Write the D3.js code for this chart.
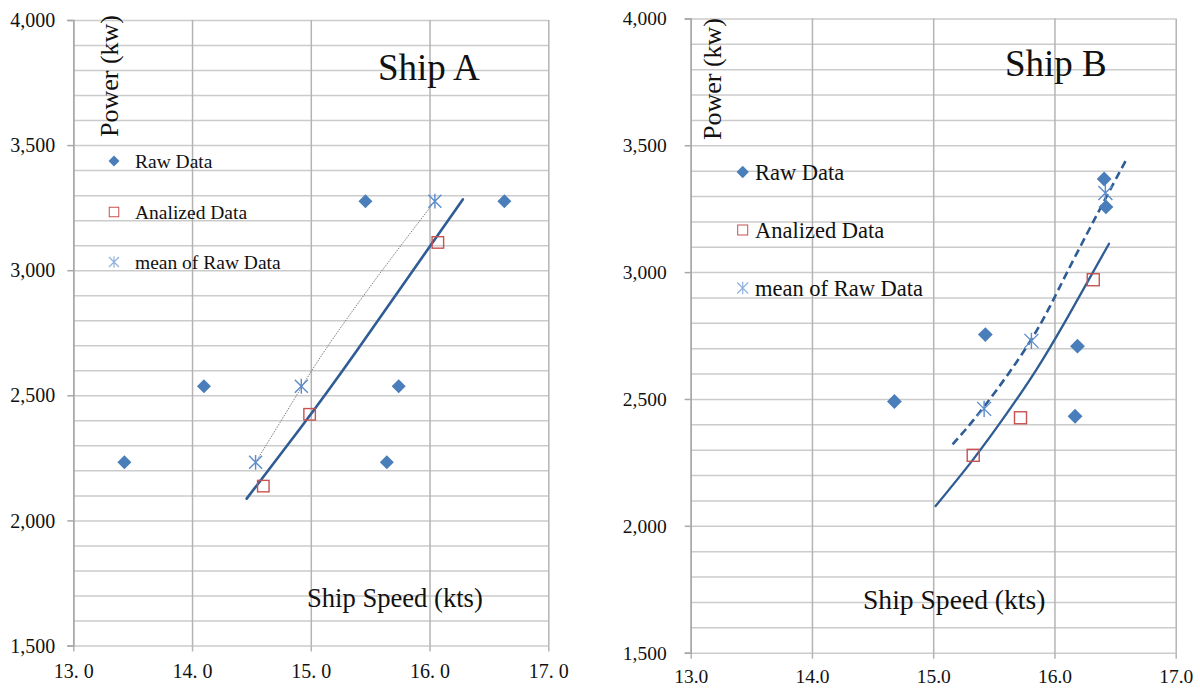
<!DOCTYPE html>
<html>
<head>
<meta charset="utf-8">
<script src="https://cdn.jsdelivr.net/npm/d3@7"></script>
<style>
  html, body { margin: 0; padding: 0; background: #fff; }
  svg { display: block; }
  text { font-family: "Liberation Serif", "Times New Roman", serif; fill: #111; }
</style>
</head>
<body>
<svg id="chart" width="1200" height="688" font-family="Liberation Serif, serif"></svg>
<script>
// ---- Ship A -------------------------------------------------------------
const shipARawSpeed   = [13.43, 14.10, 15.46, 15.74, 15.64, 16.63];
const shipARawPower   = [2232, 2536, 3276, 2536, 2232, 3276];
const shipAMeanSpeed  = [14.535, 14.92, 16.045];
const shipAMeanPower  = [2232, 2536, 3276];
const shipAAnalSpeed  = [14.60, 14.99, 16.07];
const shipAAnalPower  = [2137, 2424, 3111];
// fitted curve through analysed data
const shipAFitSpeed   = [14.46, 14.91, 15.39, 16.28];
const shipAFitPower   = [2087, 2367, 2680, 3283];
// curve through the means of raw data
const shipAMeanFitSpeed = [14.535, 14.855, 15.12, 15.56, 16.045];
const shipAMeanFitPower = [2232, 2480, 2680, 2973, 3276];

// ---- Ship B -------------------------------------------------------------
const shipBRawSpeed   = [14.68, 15.43, 16.19, 16.17, 16.41, 16.425];
const shipBRawPower   = [2490, 2754, 2708, 2432, 3367, 3257];
const shipBMeanSpeed  = [15.42, 15.81, 16.42];
const shipBMeanPower  = [2461, 2729, 3312];
const shipBAnalSpeed  = [15.33, 15.72, 16.32];
const shipBAnalPower  = [2278, 2426, 2970];
const shipBFitSpeed   = [15.02, 15.33, 15.61, 15.85, 16.10, 16.45];
const shipBFitPower   = [2078, 2262, 2445, 2615, 2815, 3112];
const shipBMeanFitSpeed = [15.16, 15.42, 15.81, 16.10, 16.43, 16.60];
const shipBMeanFitPower = [2321, 2470, 2735, 2995, 3298, 3450];

// ---- Axes ---------------------------------------------------------------
const speedTicks = [13, 14, 15, 16, 17];
const powerTicks = [1500, 2000, 2500, 3000, 3500, 4000];
const powerMinorTicks = d3.range(1500, 4001, 100);
const legendLabels = ["Raw Data", "Analized Data", "mean of Raw Data"];
const yTitle = "Power (kw)";
const xTitle = "Ship Speed (kts)";

const zip = (xs, ys) => xs.map((x, i) => [x, ys[i]]);
const SERIF = '"Liberation Serif", "Times New Roman", serif';

const panels = [
  {
    title: "Ship A",
    raw: zip(shipARawSpeed, shipARawPower),
    mean: zip(shipAMeanSpeed, shipAMeanPower),
    anal: zip(shipAAnalSpeed, shipAAnalPower),
    fit: zip(shipAFitSpeed, shipAFitPower),
    meanFit: zip(shipAMeanFitSpeed, shipAMeanFitPower),
    meanFitStyle: { stroke: "#6e6e6e", width: 0.9, dash: "1.5,1.2" },
    fitWidth: 2.6,
    xFmt: d => d.toFixed(1).replace(".", ". "),
    xr: [73.3, 548.3], yr: [645.5, 20],
    yLabelGap: 18, xLabelDy: 32, tickFont: 20,
    yTitlePos: [118, 137], titlePos: [378, 80], titleFont: 37,
    xTitlePos: [307, 607], xTitleFont: 26.6,
    legend: { x: 114, tx: 135, ys: [161, 212, 262], font: 19.5, dia: 5.5, sq: 9.5, ast: 5 },
    markSize: { dia: 7, sq: 11.5, ast: 6.5 }
  },
  {
    title: "Ship B",
    raw: zip(shipBRawSpeed, shipBRawPower),
    mean: zip(shipBMeanSpeed, shipBMeanPower),
    anal: zip(shipBAnalSpeed, shipBAnalPower),
    fit: zip(shipBFitSpeed, shipBFitPower),
    meanFit: zip(shipBMeanFitSpeed, shipBMeanFitPower),
    meanFitStyle: { stroke: "#2e5c94", width: 2.6, dash: "8,4.5" },
    fitWidth: 2.3,
    xFmt: d => d.toFixed(1),
    xr: [690.7, 1175.7], yr: [652.7, 18.4],
    yLabelGap: 24, xLabelDy: 30, tickFont: 19.5,
    yTitlePos: [721, 140], titlePos: [1005, 76], titleFont: 37,
    xTitlePos: [863, 609], xTitleFont: 27.6,
    legend: { x: 742.7, tx: 755, ys: [172, 230, 288], font: 22.5, dia: 6.2, sq: 10, ast: 5.5 },
    markSize: { dia: 7.4, sq: 12, ast: 7 }
  }
];

const svg = d3.select("#chart");
const blue = "#4a7ebb";
const red = "#c8524f";
const lineBlue = "#2e5c94";

function diamond(sel, r) {
  sel.attr("d", `M0,${-r}L${r},0L0,${r}L${-r},0Z`).attr("fill", blue);
}
function square(sel, s, w) {
  sel.attr("x", -s / 2).attr("y", -s / 2).attr("width", s).attr("height", s)
     .attr("fill", "none").attr("stroke", red).attr("stroke-width", w);
}
function asterisk(sel, r, color, w) {
  const v = r * 1.15;
  sel.attr("d", `M${-r},${-r}L${r},${r}M${-r},${r}L${r},${-r}M0,${-v}L0,${v}`)
     .attr("fill", "none").attr("stroke", color).attr("stroke-width", w);
}

panels.forEach(p => {
  const x = d3.scaleLinear().domain([13, 17]).range(p.xr);
  const y = d3.scaleLinear().domain([1500, 4000]).range(p.yr);
  const g = svg.append("g").attr("font-family", SERIF);
  const w = p.xr[1] - p.xr[0];
  const h = p.yr[0] - p.yr[1];

  // horizontal grid every 100 kW
  g.append("g")
    .attr("transform", `translate(${p.xr[0]},0)`)
    .call(d3.axisLeft(y).tickValues(powerMinorTicks).tickSize(-w).tickFormat(""))
    .call(s => s.select(".domain").remove())
    .call(s => s.selectAll("line").attr("stroke", "#cbcbcb").attr("stroke-width", 1.5));

  // vertical grid at each knot, with short ticks below the axis
  g.append("g")
    .attr("transform", `translate(0,${p.yr[0]})`)
    .call(d3.axisBottom(x).tickValues(speedTicks).tickSizeInner(-h).tickSizeOuter(0).tickFormat(""))
    .call(s => s.select(".domain").remove())
    .call(s => s.selectAll("line").attr("stroke", "#b4b4b4").attr("stroke-width", 1.5).attr("y2", 0).attr("y1", -h))
    .call(s => s.selectAll(".tick").append("line")
      .attr("y1", 0).attr("y2", 6).attr("stroke", "#b4b4b4").attr("stroke-width", 1.5));

  // x tick labels
  g.append("g")
    .attr("transform", `translate(0,${p.yr[0]})`)
    .call(d3.axisBottom(x).tickValues(speedTicks).tickSize(0).tickFormat(p.xFmt))
    .attr("font-family", SERIF)
    .call(s => s.select(".domain").remove())
    .call(s => s.selectAll("text")
      .attr("y", p.xLabelDy).attr("dy", 0)
      .style("font-family", SERIF)
      .style("font-size", p.tickFont + "px").attr("fill", "#222"));

  // y axis with major ticks and labels
  g.append("g")
    .attr("transform", `translate(${p.xr[0]},0)`)
    .call(d3.axisLeft(y).tickValues(powerTicks).tickSize(6).tickFormat(d3.format(",")))
    .attr("font-family", SERIF)
    .call(s => s.select(".domain").attr("stroke", "#a8a8a8").attr("stroke-width", 1.5))
    .call(s => s.selectAll("line").attr("stroke", "#a8a8a8").attr("stroke-width", 1.5))
    .call(s => s.selectAll("text")
      .attr("x", -p.yLabelGap).attr("dy", "0.33em")
      .style("font-family", SERIF)
      .style("font-size", p.tickFont + "px").attr("fill", "#222"));

  // titles
  g.append("text")
    .attr("transform", `translate(${p.yTitlePos[0]},${p.yTitlePos[1]}) rotate(-90)`)
    .style("font-family", SERIF)
    .style("font-size", "26px").text(yTitle);
  g.append("text")
    .attr("x", p.titlePos[0]).attr("y", p.titlePos[1])
    .style("font-family", SERIF)
    .style("font-size", p.titleFont + "px").text(p.title);
  g.append("text")
    .attr("x", p.xTitlePos[0]).attr("y", p.xTitlePos[1])
    .style("font-family", SERIF)
    .style("font-size", p.xTitleFont + "px").text(xTitle);

  // curves
  const line = d3.line().x(d => x(d[0])).y(d => y(d[1])).curve(d3.curveNatural);
  g.append("path").datum(p.meanFit).attr("d", line)
    .attr("fill", "none").attr("stroke", p.meanFitStyle.stroke)
    .attr("stroke-width", p.meanFitStyle.width)
    .attr("stroke-dasharray", p.meanFitStyle.dash);
  g.append("path").datum(p.fit).attr("d", line)
    .attr("fill", "none").attr("stroke", lineBlue)
    .attr("stroke-width", p.fitWidth).attr("stroke-linecap", "round");

  // markers
  g.selectAll(".raw").data(p.raw).join("path").attr("class", "raw")
    .attr("transform", d => `translate(${x(d[0])},${y(d[1])})`)
    .call(diamond, p.markSize.dia);
  g.selectAll(".anal").data(p.anal).join("rect").attr("class", "anal")
    .attr("transform", d => `translate(${x(d[0])},${y(d[1])})`)
    .call(square, p.markSize.sq, 1.4);
  g.selectAll(".mean").data(p.mean).join("path").attr("class", "mean")
    .attr("transform", d => `translate(${x(d[0])},${y(d[1])})`)
    .call(asterisk, p.markSize.ast, "#5b8ccc", 1.4);

  // legend
  const L = p.legend;
  const lg = g.append("g");
  lg.append("path").attr("transform", `translate(${L.x},${L.ys[0]})`).call(diamond, L.dia);
  lg.append("rect").attr("transform", `translate(${L.x},${L.ys[1]})`).call(square, L.sq, 1);
  lg.append("path").attr("transform", `translate(${L.x},${L.ys[2]})`).call(asterisk, L.ast, "#8fb2de", 1.2);
  lg.selectAll("text").data(legendLabels).join("text")
    .attr("x", L.tx).attr("y", (d, i) => L.ys[i]).attr("dy", "0.35em")
    .style("font-family", SERIF)
    .style("font-size", L.font + "px").text(d => d);
});
</script>
</body>
</html>
